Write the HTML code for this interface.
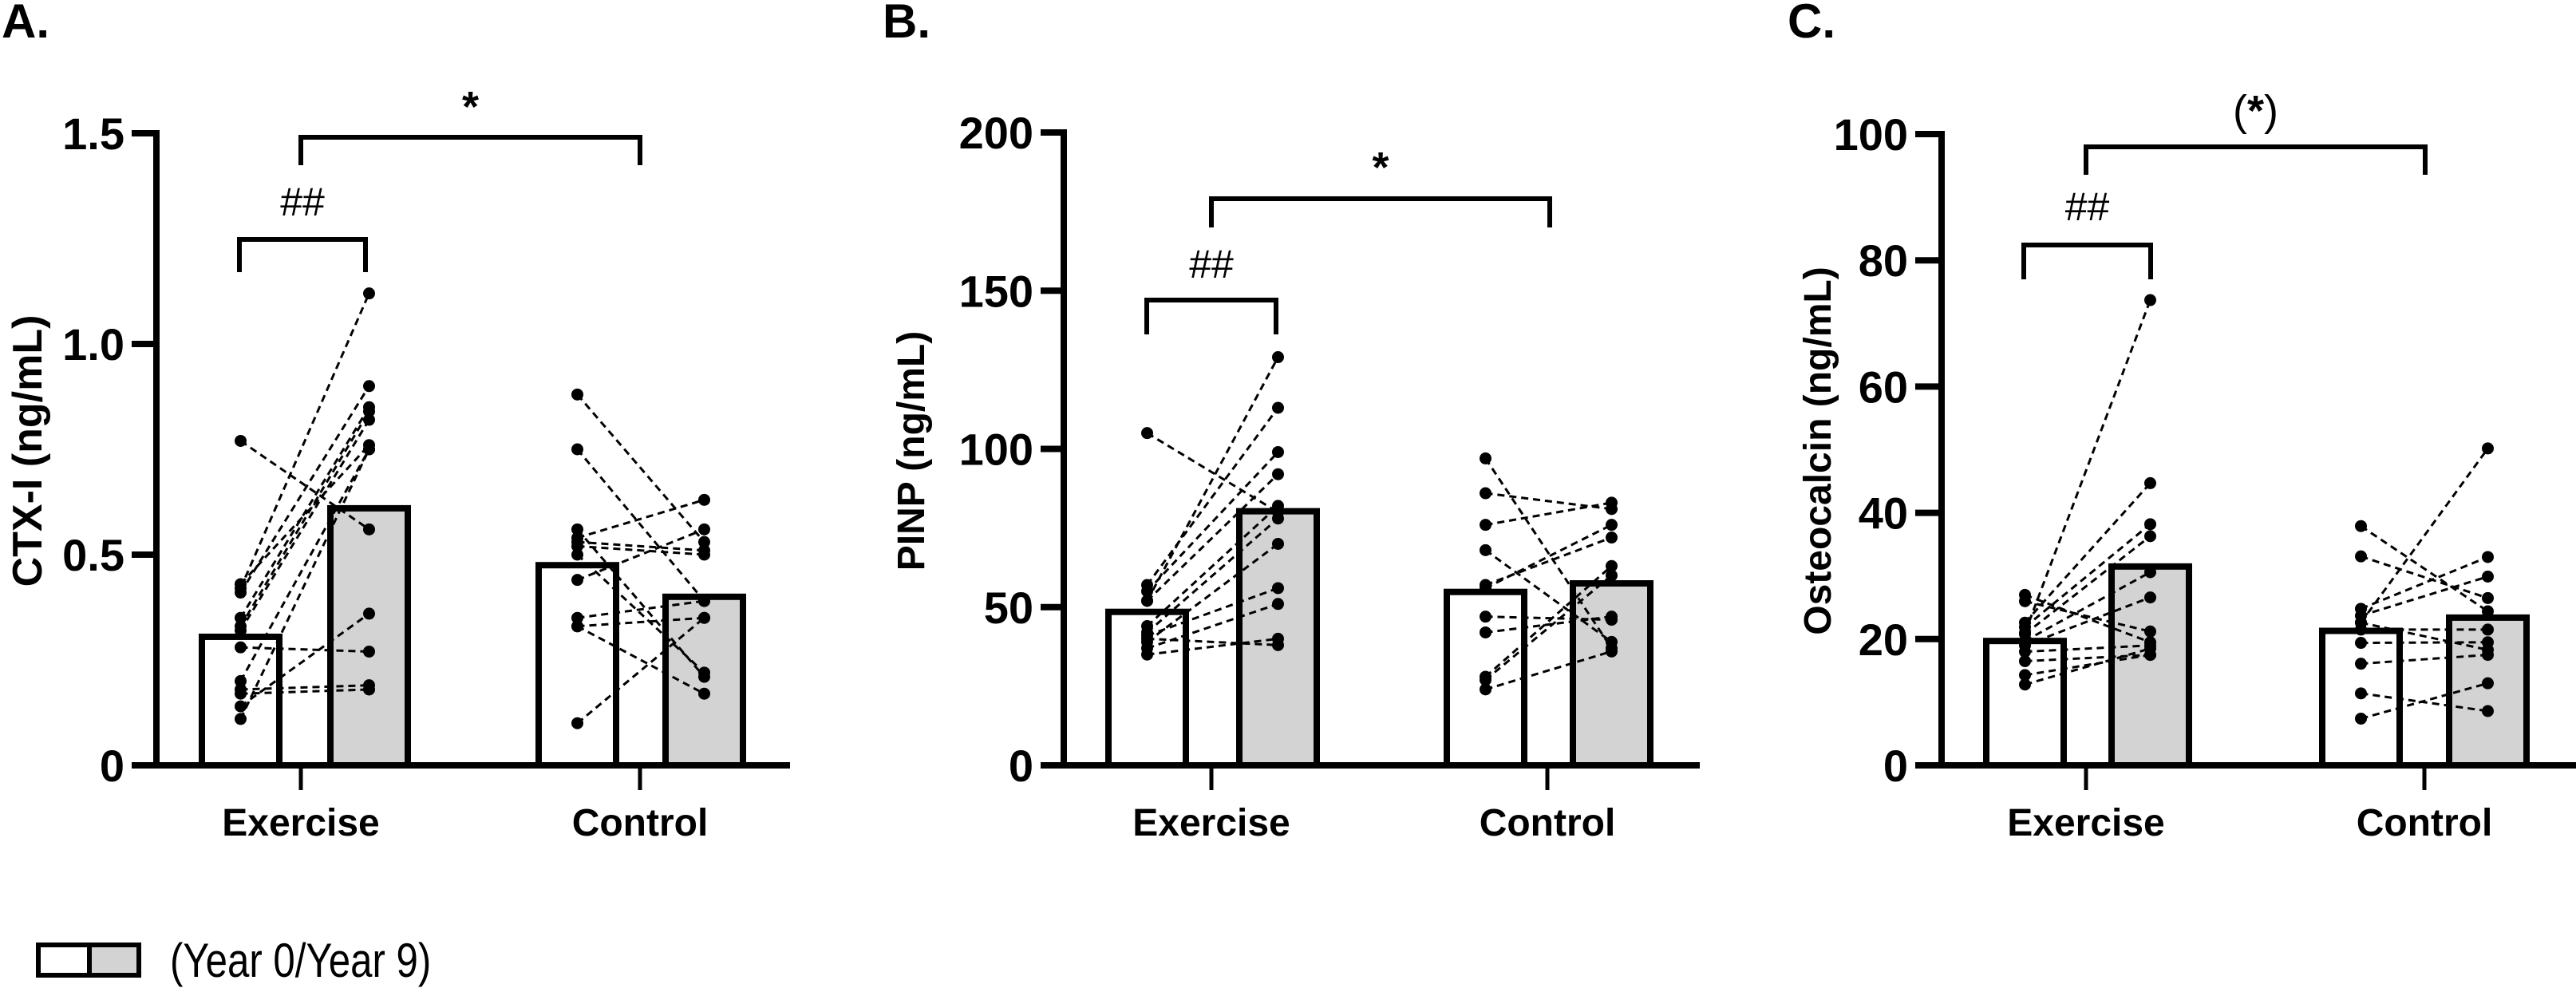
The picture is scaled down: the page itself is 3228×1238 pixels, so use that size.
<!DOCTYPE html>
<html><head><meta charset="utf-8"><style>
html,body{margin:0;padding:0;background:#fff;}
svg{display:block;font-family:"Liberation Sans",Arial,sans-serif;}
</style></head><body>
<svg id="fig" width="3228" height="1238" viewBox="0 0 3228 1238" xmlns="http://www.w3.org/2000/svg">
<g>
<rect x="48" y="1184" width="64" height="38" fill="#fff" stroke="#000" stroke-width="6"/>
<rect x="112" y="1184" width="62" height="38" fill="#d3d3d3" stroke="#000" stroke-width="6"/>
<text x="213" y="1224" font-size="60" transform="translate(213 0) scale(0.82 1) translate(-213 0)">(Year 0/Year 9)</text>
</g>
</svg>
<script>
// Panel A: CTX-I
const categories = ["Exercise", "Control"];
const aTicks = [0, 0.5, 1.0, 1.5];
const aTickLabels = ["0", "0.5", "1.0", "1.5"];
const aMeans0 = [0.305, 0.475];
const aMeans9 = [0.61, 0.40];
const aExY0 = [0.77,0.43,0.42,0.41,0.35,0.33,0.32,0.28,0.20,0.18,0.17,0.14,0.11];
const aExY9 = [0.56,0.76,1.12,0.90,0.85,0.84,0.82,0.27,0.75,0.19,0.18,0.36,0.75];
const aCtY0 = [0.88,0.75,0.56,0.54,0.53,0.52,0.50,0.44,0.35,0.33,0.33,0.10];
const aCtY9 = [0.53,0.39,0.21,0.63,0.51,0.50,0.22,0.56,0.39,0.17,0.35,0.35];
// Panel B: PINP
const bTicks = [0, 50, 100, 150, 200];
const bTickLabels = ["0", "50", "100", "150", "200"];
const bMeans0 = [48.5, 54.8];
const bMeans9 = [80.3, 57.5];
const bExY0 = [105,57,55,52,52,44,42,41,39,37,35,40];
const bExY9 = [80,113,99,129,92,82,78,56,70,51,40,38];
const bCtY0 = [97,86,76,68,57,56,47,42,28,27,24];
const bCtY9 = [37,81,83,39,72,76,46,47,63,60,36];
// Panel C: Osteocalcin
const cTicks = [0, 20, 40, 60, 80, 100];
const cTickLabels = ["0", "20", "40", "60", "80", "100"];
const cMeans0 = [19.7, 21.3];
const cMeans9 = [31.5, 23.4];
const cExY0 = [21,27,26,22.6,21.9,20.8,19.7,19,16.5,14.3,12.8,18];
const cExY9 = [73.7,19.5,21.2,44.7,38.2,36.3,30.6,26.6,17.5,17.5,18.5,19];
const cCtY0 = [37.9,33.1,24.8,23.7,22.6,22.6,21.5,19.4,16.1,11.4,7.4];
const cCtY9 = [24.4,26.5,33,29.9,50.2,18.3,21.5,19.5,17.5,8.6,13];

const NS = "http://www.w3.org/2000/svg";
const svg = document.getElementById("fig");
function mk(tag, attrs, parent, txt){
  const e = document.createElementNS(NS, tag);
  for (const k in attrs) e.setAttribute(k, attrs[k]);
  if (txt !== undefined) e.textContent = txt;
  (parent||svg).appendChild(e);
  return e;
}

const panels = [
  {id:"a", title:"A.", titleX:2, ylabel:"CTX-I (ng/mL)", ylabelSize:52, ylabelX:52, axisX:196, xStart:165, xEnd:990,
   ymax:1.5, top:167, ticks:aTicks, tickLabels:aTickLabels, groupX:[377,802], bar0:[253,675], bar9:[414,834], barW:97,
   m0:aMeans0, m9:aMeans9, ex:[aExY0,aExY9], ct:[aCtY0,aCtY9],
   hashBr:[300,458,300,341], hashY:270, starBr:[377,802,172,207], paren:false, starY:152},
  {id:"b", title:"B.", titleX:1106, ylabel:"PINP (ng/mL)", ylabelSize:48, ylabelX:1158, axisX:1333, xStart:1304, xEnd:2130,
   ymax:200, top:166, ticks:bTicks, tickLabels:bTickLabels, groupX:[1518,1939], bar0:[1389,1813], bar9:[1553,1971], barW:97,
   m0:bMeans0, m9:bMeans9, ex:[bExY0,bExY9], ct:[bCtY0,bCtY9],
   hashBr:[1437,1599,376,419], hashY:348, starBr:[1518,1942,249,285], paren:false, starY:228},
  {id:"c", title:"C.", titleX:2240, ylabel:"Osteocalcin (ng/mL)", ylabelSize:48, ylabelX:2294, axisX:2433, xStart:2400, xEnd:3228,
   ymax:100, top:168, ticks:cTicks, tickLabels:cTickLabels, groupX:[2614,3038], bar0:[2489,2910], bar9:[2646,3069], barW:97,
   m0:cMeans0, m9:cMeans9, ex:[cExY0,cExY9], ct:[cCtY0,cCtY9],
   hashBr:[2536,2695,307,350], hashY:276, starBr:[2614,3039,184,219], paren:true, starY:157}
];
const BOTTOM = 959;

panels.forEach(p => {
  const g = mk("g", {});
  
  
  const y = v => BOTTOM - v / p.ymax * (BOTTOM - p.top);

  const t = mk("text", {x:p.titleX, y:47, "font-size":60, "font-weight":"bold"}, g, p.title);
  
  

  const yl = mk("text", {x:p.ylabelX, y:565, "font-size":p.ylabelSize, "font-weight":"bold", "text-anchor":"middle",
    transform:`rotate(-90 ${p.ylabelX} 565)`}, g, p.ylabel);
  
  

  [0,1].forEach(i => {
    const b0 = mk("rect", {x:p.bar0[i], y:y(p.m0[i]), width:p.barW, height:BOTTOM - y(p.m0[i]), fill:"#fff", stroke:"#000", "stroke-width":8}, g);
    
    
    const b9 = mk("rect", {x:p.bar9[i], y:y(p.m9[i]), width:p.barW, height:BOTTOM - y(p.m9[i]), fill:"#d3d3d3", stroke:"#000", "stroke-width":8}, g);
    
    
  });

  [p.ex, p.ct].forEach((pair, i) => {
    const x0 = p.bar0[i] + p.barW / 2, x9 = p.bar9[i] + p.barW / 2;
    pair[0].forEach((v, k) => {
      const ln = mk("line", {x1:x0, y1:y(v), x2:x9, y2:y(pair[1][k]), stroke:"#000", "stroke-width":3, "stroke-dasharray":"9 6"}, g);
      
      
    });
    pair[0].forEach(v => {
      const c = mk("circle", {cx:x0, cy:y(v), r:7.5, fill:"#000"}, g);
      
      
    });
    pair[1].forEach(v => {
      const c = mk("circle", {cx:x9, cy:y(v), r:7.5, fill:"#000"}, g);
      
      
    });
  });

  const ya = mk("line", {x1:p.axisX, y1:p.top - 4, x2:p.axisX, y2:BOTTOM, stroke:"#000", "stroke-width":8}, g);
  
  
  const xa = mk("line", {x1:p.xStart, y1:BOTTOM, x2:p.xEnd, y2:BOTTOM, stroke:"#000", "stroke-width":8}, g);
  
  
  p.ticks.forEach((v, k) => {
    const tk = mk("line", {x1:p.xStart, y1:y(v), x2:p.axisX, y2:y(v), stroke:"#000", "stroke-width":8}, g);
    
    
    const tl = mk("text", {x:p.xStart - 9, y:y(v) + 20, "font-size":56, "font-weight":"bold", "text-anchor":"end"}, g, p.tickLabels[k]);
    
    
  });
  categories.forEach((c, i) => {
    const tk = mk("line", {x1:p.groupX[i], y1:BOTTOM, x2:p.groupX[i], y2:BOTTOM + 31, stroke:"#000", "stroke-width":5}, g);
    
    
    const tl = mk("text", {x:p.groupX[i], y:1047, "font-size":48, "font-weight":"bold", "text-anchor":"middle"}, g, c);
    
    
  });

  const hb = p.hashBr;
  const h = mk("path", {d:`M${hb[0]} ${hb[3]} V${hb[2]} H${hb[1]} V${hb[3]}`, fill:"none", stroke:"#000", "stroke-width":6}, g);
  
  
  const ht = mk("text", {x:(hb[0] + hb[1]) / 2, y:p.hashY, "font-size":50, "text-anchor":"middle"}, g, "##");
  
  
  const sb = p.starBr;
  const s = mk("path", {d:`M${sb[0]} ${sb[3]} V${sb[2]} H${sb[1]} V${sb[3]}`, fill:"none", stroke:"#000", "stroke-width":6}, g);
  
  
  const st = mk("text", {x:(sb[0] + sb[1]) / 2, y:p.starY, "font-size":54, "text-anchor":"middle"}, g);
  
  
  if (p.paren) {
    mk("tspan", {}, st, "(");
    mk("tspan", {"font-weight":"bold"}, st, "*");
    mk("tspan", {}, st, ")");
  } else {
    mk("tspan", {"font-weight":"bold"}, st, "*");
  }
});
</script>
</body></html>
